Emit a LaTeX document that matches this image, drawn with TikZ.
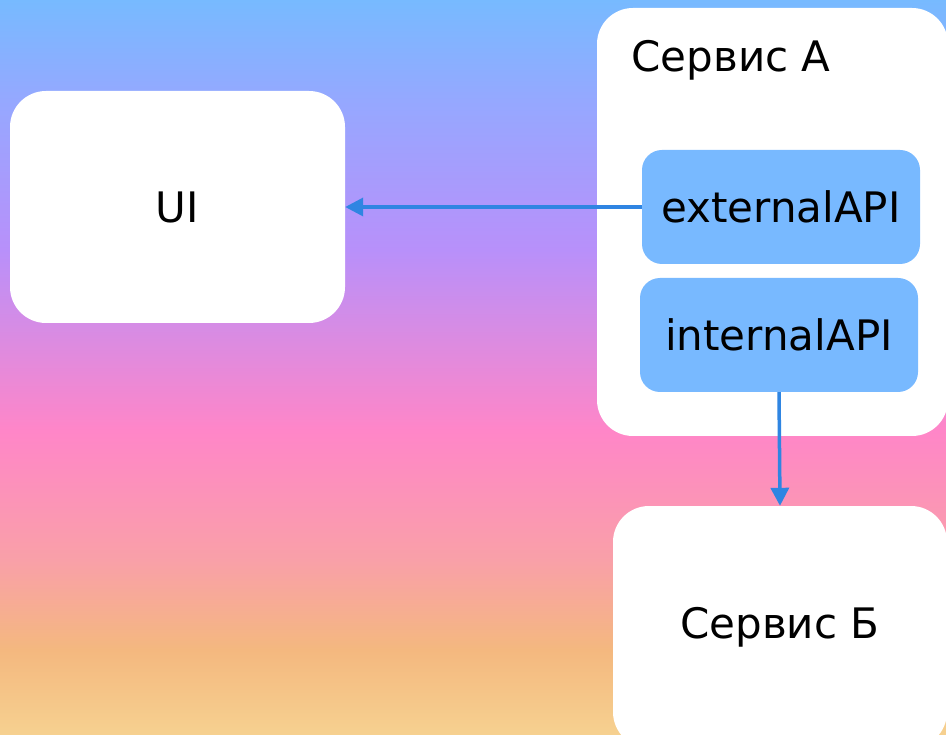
\documentclass[tikz,border=0pt]{standalone}
\usepackage{fontspec}
\setmainfont{DejaVu Sans}
\usetikzlibrary{arrows.meta}

\definecolor{bgtop}{HTML}{77BAFF}
\definecolor{bglav}{HTML}{95A8FF}
\definecolor{bgviolet}{HTML}{B890FA}
\definecolor{bgpink}{HTML}{FF86C8}
\definecolor{bgsalmon}{HTML}{F9A0A8}
\definecolor{bgorange}{HTML}{F4B87F}
\definecolor{bgbottom}{HTML}{F6D190}
\definecolor{apiblue}{HTML}{78B9FF}
\definecolor{arrowblue}{HTML}{2F85E2}

\pgfdeclareverticalshading{bgfade}{100bp}{color(0bp)=(bgbottom); color(25bp)=(bgbottom);
  color(30.8bp)=(bgorange); color(36.9bp)=(bgsalmon); color(45.7bp)=(bgpink);
  color(58bp)=(bgviolet); color(68.2bp)=(bglav); color(75bp)=(bgtop); color(100bp)=(bgtop)}

\tikzset{
  box/.style={fill=white, rounded corners=36pt, inner sep=0pt},
  api/.style={fill=apiblue, rounded corners=20pt, minimum width=278pt, minimum height=114pt},
  label/.style={font=\fontsize{42}{48}\selectfont, text=black},
  flow/.style={draw=arrowblue, line width=3.5pt, -{Triangle[length=18pt,width=18pt]}}
}

\begin{document}
\begin{tikzpicture}[x=1pt,y=-1pt]
    \useasboundingbox (0,0) rectangle (946,735);
    \clip (0,0) rectangle (946,735);
    \shade [shading=bgfade] (0,0) rectangle (946,735);

    % boxes
    \node [box, minimum width=335pt, minimum height=232pt, label] (ui) at (177.5,207) {UI};
    \node [box, minimum width=351pt, minimum height=428pt] (svcA) at (772.5,222) {};
    \node [label, anchor=west] (svcAtitle) at (628,60) {Сервис А};
    \node [api, label] (ext) at (781,207) {externalAPI};
    \node [api, label] (int) at (779,335) {internalAPI};
    \node [box, minimum width=334pt, minimum height=242pt, label] (svcB) at (780,627) {Сервис Б};

    % calls
    \draw [flow] (ext.west) -- (ui.east);
    \draw [flow] (int.south) -- (svcB.north);
\end{tikzpicture}
\end{document}
